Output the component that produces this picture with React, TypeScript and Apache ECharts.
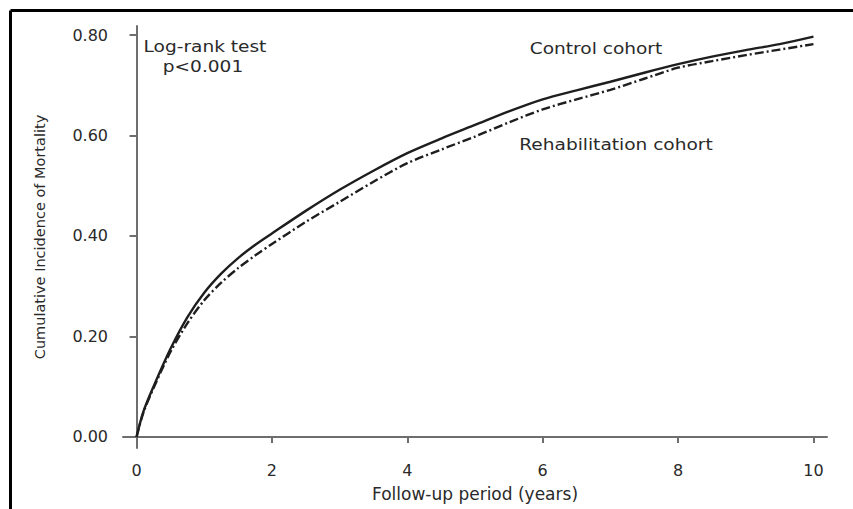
import React, { useEffect, useRef } from "react";
import * as echarts from "echarts";

const years = [0, 0.1, 0.25, 0.5, 0.75, 1, 1.25, 1.5, 1.75, 2, 2.5, 3, 3.5, 4, 4.5, 5, 5.5, 6, 6.5, 7, 7.5, 8, 8.5, 9, 9.5, 10];
const controlCohort = [0, 0.05, 0.1, 0.175, 0.238, 0.287, 0.325, 0.356, 0.382, 0.405, 0.45, 0.492, 0.53, 0.565, 0.594, 0.621, 0.648, 0.672, 0.69, 0.707, 0.725, 0.742, 0.757, 0.77, 0.782, 0.797];
const rehabCohort = [0, 0.048, 0.097, 0.169, 0.226, 0.272, 0.307, 0.336, 0.361, 0.384, 0.428, 0.468, 0.508, 0.545, 0.572, 0.598, 0.626, 0.652, 0.672, 0.691, 0.713, 0.735, 0.748, 0.76, 0.771, 0.782];
const xTicks = [0, 2, 4, 6, 8, 10];
const yTicks = [0, 0.2, 0.4, 0.6, 0.8];

const FONT = "'DejaVu Sans', 'Liberation Sans', sans-serif";

export default function App() {
  const ref = useRef<HTMLDivElement>(null);
  useEffect(() => {
    if (!ref.current) return;
    const chart = echarts.init(ref.current, undefined, { renderer: "svg" });
    const txt = (text: string, x: number, y: number, size = 16) => ({
      type: "text",
      x,
      y,
      scaleX: 1.16,
      style: {
        text,
        fill: "#2a2a2a",
        font: `${size}px ${FONT}`,
        textAlign: "center",
        textVerticalAlign: "middle",
      },
    });
    chart.setOption({
      animation: false,
      backgroundColor: "#ffffff",
      grid: { left: 123, right: 26, top: 26, bottom: 61 },
      xAxis: {
        type: "value",
        min: -0.2,
        max: 10.2,
        name: "Follow-up period (years)",
        nameLocation: "middle",
        nameGap: 37,
        nameTextStyle: { fontFamily: FONT, fontSize: 17, color: "#2a2a2a" },
        axisLine: { show: true, lineStyle: { color: "#6e6e6e", width: 2 } },
        axisTick: { show: true, length: 6, customValues: xTicks, lineStyle: { color: "#6e6e6e", width: 2 } },
        axisLabel: { customValues: xTicks, margin: 14, fontFamily: FONT, fontSize: 16, color: "#2a2a2a" },
        splitLine: { show: false },
      },
      yAxis: {
        type: "value",
        min: -0.022,
        max: 0.818,
        name: "Cumulative Incidence of Mortality",
        nameLocation: "middle",
        nameGap: 76,
        nameTextStyle: { fontFamily: FONT, fontSize: 14.5, color: "#2a2a2a" },
        axisLine: { show: true, lineStyle: { color: "#6e6e6e", width: 2 } },
        axisTick: { show: true, length: 7, customValues: yTicks, lineStyle: { color: "#6e6e6e", width: 2 } },
        axisLabel: {
          customValues: yTicks,
          margin: 15,
          fontFamily: FONT,
          fontSize: 16,
          color: "#2a2a2a",
          formatter: (v: number) => v.toFixed(2),
        },
        splitLine: { show: false },
      },
      series: [
        {
          name: "Control cohort",
          type: "line",
          data: years.map((t, i) => [t, controlCohort[i]]),
          showSymbol: false,
          smooth: 0.3,
          lineStyle: { color: "#1e1e1e", width: 2.4, type: "solid" },
        },
        {
          name: "Rehabilitation cohort",
          type: "line",
          data: years.map((t, i) => [t, rehabCohort[i]]),
          showSymbol: false,
          smooth: 0.3,
          lineStyle: { color: "#1e1e1e", width: 2.4, type: [9, 3, 2, 3] },
        },
      ],
      graphic: [
        { type: "line", shape: { x1: 10.5, y1: 10.5, x2: 853, y2: 10.5 }, style: { stroke: "#000", lineWidth: 3 } },
        { type: "line", shape: { x1: 10.5, y1: 10.5, x2: 10.5, y2: 509 }, style: { stroke: "#000", lineWidth: 3 } },
        txt("Log-rank test", 205, 46),
        txt("p<0.001", 203, 66),
        txt("Control cohort", 596, 48),
        txt("Rehabilitation cohort", 616, 144),
      ],
    });
    return () => chart.dispose();
  }, []);
  return (
    <div
      ref={ref}
      style={{ position: "absolute", left: 0, top: 0, width: 853, height: 509, background: "#fff" }}
    />
  );
}
